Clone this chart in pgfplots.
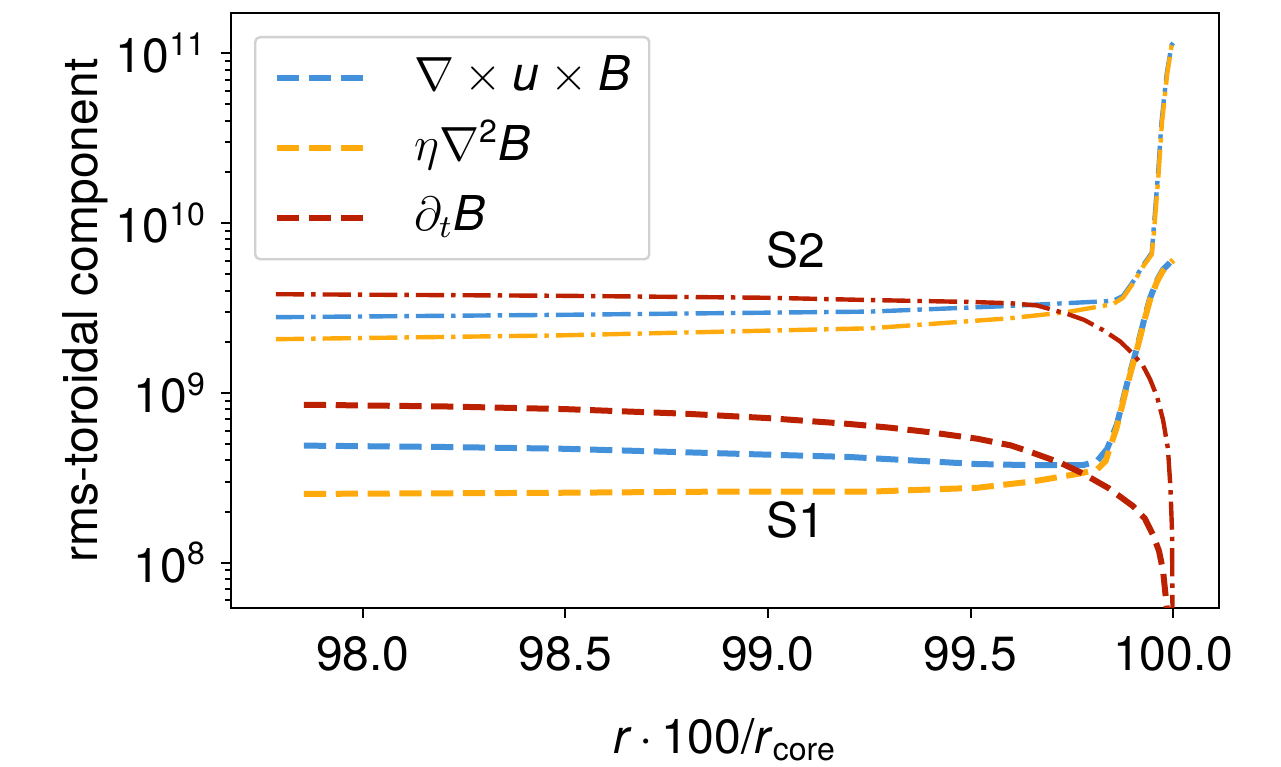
\documentclass[border=0pt]{standalone}
\usepackage{fontspec}
\setmainfont{TeX Gyre Heros}
\usepackage{pgfplots}
\pgfplotsset{compat=1.18}

\definecolor{cblue}{RGB}{66,145,218}
\definecolor{corange}{RGB}{255,170,12}
\definecolor{cred}{RGB}{187,33,0}

\tikzset{
  sone/.style={line width=1.5pt, dash pattern=on 5.55pt off 2.4pt},
  stwo/.style={line width=1.1pt, dash pattern=on 7.04pt off 1.76pt on 1.1pt off 1.76pt},
}

\newcommand{\lblfont}{\fontsize{12}{14}\selectfont}

\begin{document}
\begin{tikzpicture}
\path[use as bounding box] (0,0) rectangle (320.25pt,191.75pt);
\begin{axis}[
  at={(57.75pt,39.75pt)}, anchor=south west,
  scale only axis, width=247pt, height=148.75pt,
  ymode=log,
  xmin=97.675, xmax=100.113,
  ymin=5.41e7, ymax=1.726e11,
  xtick={98,98.5,99,99.5,100},
  xticklabels={98.0,98.5,99.0,99.5,100.0},
  ytick={1e8,1e9,1e10,1e11},
  yticklabels={10\textsuperscript{8},10\textsuperscript{9},10\textsuperscript{10},10\textsuperscript{11}},
  minor ytick={6e7,7e7,8e7,9e7,2e8,3e8,4e8,5e8,6e8,7e8,8e8,9e8,2e9,3e9,4e9,5e9,6e9,7e9,8e9,9e9,2e10,3e10,4e10,5e10,6e10,7e10,8e10,9e10},
  tick align=outside, tick pos=left,
  major tick length=2.5pt, minor tick length=1.4pt,
  every tick/.style={black, line width=0.5pt},
  axis line style={line width=0.5pt},
  ticklabel style={font=\lblfont},
  xticklabel style={yshift=-1pt},
  xlabel={\textit{r}\,$\cdot$\,100/\textit{r}\textsubscript{core}},
  ylabel={rms-toroidal component},
  label style={font=\lblfont},
  xlabel style={at={(axis description cs:0.5,-0.244)}, anchor=base},
  ylabel style={at={(axis description cs:-0.148,0.5)}, anchor=center},
  legend cell align=left,
  legend image code/.code={\draw[#1] (0pt,0pt) -- (23.75pt,0pt);},
  legend style={
    at={(axis description cs:0.0233,0.9613)}, anchor=north west,
    draw=black!18, line width=0.6pt, rounded corners=1.2pt, fill=white,
    inner xsep=4.75pt, inner ysep=4.25pt,
    row sep=5.5pt, column sep=9.75pt,
    nodes={inner sep=0pt, text height=9pt, text depth=3pt},
    font=\lblfont,
  },
]

% S1: dashed
\addplot[cblue, sone] coordinates {
  (97.855,4.89e8) (98.2,4.80e8) (98.487,4.69e8) (98.877,4.41e8) (99.202,4.19e8)
  (99.516,3.81e8) (99.654,3.75e8) (99.777,3.75e8) (99.812,3.96e8)
  (99.837,4.68e8) (99.861,6.52e8) (99.886,1.13e9) (99.911,1.86e9)
  (99.930,2.80e9) (99.943,3.62e9) (99.960,4.60e9) (99.975,5.33e9) (100.0,6.12e9)
};
\addlegendentry{$\nabla\times\mbox{\textit{u}}\times\mbox{\textit{B}}$}

\addplot[corange, sone] coordinates {
  (97.855,2.54e8) (98.487,2.58e8) (98.877,2.62e8) (99.253,2.62e8)
  (99.516,2.76e8) (99.654,3.01e8) (99.770,3.35e8) (99.812,3.54e8)
  (99.833,3.96e8) (99.861,6.31e8) (99.886,1.10e9) (99.911,1.82e9)
  (99.930,2.74e9) (99.943,3.55e9) (99.960,4.52e9) (99.975,5.25e9) (100.0,6.05e9)
};
\addlegendentry{$\eta\nabla$\textsuperscript{2}\textit{B}}

\addplot[cred, sone] coordinates {
  (97.855,8.51e8) (98.2,8.32e8) (98.5,8.02e8) (98.8,7.53e8) (99.0,7.10e8)
  (99.2,6.56e8) (99.3,6.24e8) (99.4,5.86e8) (99.516,5.37e8) (99.6,4.90e8)
  (99.654,4.43e8) (99.72,3.89e8) (99.777,3.35e8) (99.84,2.75e8)
  (99.9,2.16e8) (99.93,1.82e8) (99.95,1.46e8) (99.965,1.17e8)
  (99.975,8.93e7) (99.984,5.5e7) (99.990,2.0e7)
};
\addlegendentry{$\partial_t$\textit{B}}

% S2: dash-dotted
\addplot[cblue, stwo, forget plot] coordinates {
  (97.786,2.79e9) (98.487,2.88e9) (99.253,3.01e9) (99.597,3.25e9)
  (99.851,3.48e9) (99.876,3.72e9) (99.901,4.52e9) (99.926,5.66e9)
  (99.947,6.67e9) (99.951,8.77e9) (99.963,2.02e10) (99.971,3.92e10)
  (99.984,7.60e10) (99.996,1.12e11) (100.0,1.15e11)
};
\addplot[corange, stwo, forget plot] coordinates {
  (97.786,2.07e9) (98.487,2.18e9) (99.253,2.40e9) (99.597,2.75e9)
  (99.738,2.99e9) (99.851,3.33e9) (99.876,3.63e9) (99.901,4.42e9)
  (99.926,5.56e9) (99.947,6.53e9) (99.952,8.61e9) (99.964,1.97e10)
  (99.972,3.85e10) (99.985,7.50e10) (99.996,1.11e11) (100.0,1.14e11)
};
\addplot[cred, stwo, forget plot] coordinates {
  (97.786,3.81e9) (98.487,3.73e9) (99.0,3.63e9) (99.253,3.52e9)
  (99.5,3.43e9) (99.6,3.37e9) (99.664,3.27e9) (99.738,2.92e9)
  (99.78,2.69e9) (99.827,2.34e9) (99.87,2.00e9) (99.90,1.70e9)
  (99.925,1.45e9) (99.943,1.20e9) (99.96,9.5e8) (99.975,6.92e8)
  (99.987,4.68e8) (99.993,2.8e8) (99.997,1.55e8) (100.0,1.0e7)
};

\node[font=\lblfont] at (axis cs:99.069,6.95e9) {S2};
\node[font=\lblfont] at (axis cs:99.069,1.79e8) {S1};
\end{axis}
\end{tikzpicture}
\end{document}
